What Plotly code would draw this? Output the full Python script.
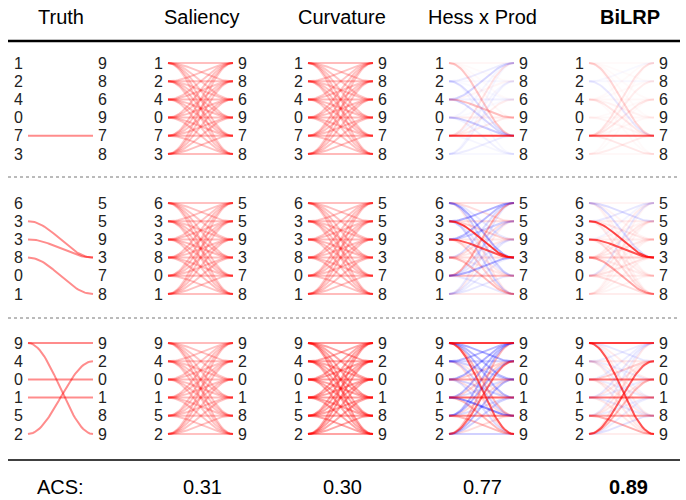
import math
import plotly.graph_objects as go

# ---------------- data ----------------
methods = ["Truth", "Saliency", "Curvature", "Hess x Prod", "BiLRP"]
acs_label = "ACS:"
acs_scores = ["0.31", "0.30", "0.77", "0.89"]

left_labels = [["1", "2", "4", "0", "7", "3"],
               ["6", "3", "3", "8", "0", "1"],
               ["9", "4", "0", "1", "5", "2"]]
right_labels = [["9", "8", "6", "9", "7", "8"],
                ["5", "5", "9", "3", "7", "8"],
                ["9", "2", "0", "1", "8", "9"]]

# relevance matrices: rows = left digit, cols = right digit (positive=red, negative=blue)
truth_r1 = [[0, 0, 0, 0, 0, 0],
            [0, 0, 0, 0, 0, 0],
            [0, 0, 0, 0, 0, 0],
            [0, 0, 0, 0, 0, 0],
            [0, 0, 0, 0, 0.5, 0],
            [0, 0, 0, 0, 0, 0]]
truth_r2 = [[0, 0, 0, 0, 0, 0],
            [0, 0, 0, 0.5, 0, 0],
            [0, 0, 0, 0.5, 0, 0],
            [0, 0, 0, 0, 0, 0.5],
            [0, 0, 0, 0, 0, 0],
            [0, 0, 0, 0, 0, 0]]
truth_r3 = [[0.5, 0, 0, 0, 0, 0.5],
            [0, 0, 0, 0, 0, 0],
            [0, 0, 0.5, 0, 0, 0],
            [0, 0, 0, 0.5, 0, 0],
            [0, 0, 0, 0, 0, 0],
            [0, 0.5, 0, 0, 0, 0]]

saliency_r1 = [[.28, .26, .24, .25, .26, .23],
               [.26, .28, .25, .26, .27, .24],
               [.25, .26, .30, .28, .27, .25],
               [.26, .25, .28, .29, .28, .26],
               [.27, .26, .26, .28, .31, .27],
               [.24, .25, .26, .26, .28, .29]]
saliency_r2 = [[.27, .26, .25, .26, .25, .24],
               [.26, .28, .26, .28, .26, .25],
               [.25, .27, .28, .29, .26, .26],
               [.26, .26, .27, .28, .27, .28],
               [.25, .26, .26, .27, .29, .26],
               [.24, .25, .26, .26, .27, .28]]
saliency_r3 = [[.29, .27, .25, .26, .26, .27],
               [.26, .27, .26, .26, .25, .25],
               [.25, .26, .29, .27, .26, .25],
               [.26, .26, .27, .29, .27, .26],
               [.25, .25, .26, .27, .28, .26],
               [.26, .28, .26, .26, .26, .27]]

curvature_r1 = [[.29, .26, .25, .25, .26, .24],
                [.26, .29, .26, .26, .27, .25],
                [.25, .26, .30, .28, .27, .25],
                [.26, .26, .28, .30, .28, .26],
                [.27, .26, .27, .28, .32, .27],
                [.24, .25, .26, .26, .28, .30]]
curvature_r2 = [[.28, .27, .26, .26, .26, .25],
                [.27, .29, .27, .29, .26, .26],
                [.26, .27, .29, .30, .27, .26],
                [.26, .27, .27, .29, .27, .29],
                [.26, .26, .27, .27, .30, .27],
                [.25, .26, .26, .27, .27, .29]]
curvature_r3 = [[.45, .40, .38, .38, .38, .42],
                [.38, .38, .37, .37, .36, .36],
                [.37, .40, .42, .39, .38, .37],
                [.38, .38, .39, .42, .39, .38],
                [.37, .37, .38, .39, .40, .39],
                [.38, .42, .38, .38, .38, .39]]

hess_r1 = [[0.04, 0.02, 0.02, 0.03, 0.25, 0.00],
           [-0.08, -0.03, -0.02, 0.00, -0.15, -0.03],
           [-0.18, 0.04, -0.06, 0.28, -0.18, 0.00],
           [-0.04, 0.00, -0.02, 0.08, -0.22, -0.06],
           [0.12, -0.04, 0.08, 0.08, 0.85, -0.04],
           [-0.04, -0.06, 0.00, 0.00, -0.08, -0.03]]
hess_r2 = [[0.15, 0.15, -0.10, -0.35, -0.20, 0.10],
           [-0.35, 0.15, 0.20, 0.85, -0.10, -0.20],
           [-0.30, -0.20, 0.10, 0.75, 0.10, 0.20],
           [-0.15, 0.15, 0.10, 0.15, 0.10, 0.30],
           [0.35, -0.15, -0.10, -0.35, 0.30, -0.10],
           [-0.10, 0.08, -0.10, -0.08, -0.10, 0.10]]
hess_r3 = [[0.85, -0.35, -0.30, -0.30, 0.30, 0.70],
           [-0.30, -0.20, -0.20, 0.10, -0.20, 0.15],
           [-0.35, 0.20, 0.40, -0.20, 0.15, -0.15],
           [-0.30, 0.20, -0.15, 0.65, -0.50, 0.30],
           [-0.30, -0.30, 0.15, -0.15, 0.50, 0.30],
           [0.30, 0.60, -0.30, -0.20, 0.15, -0.20]]

bilrp_r1 = [[0.02, 0.02, 0.02, 0.02, 0.18, 0.02],
            [-0.03, -0.03, 0.00, 0.00, -0.10, 0.00],
            [0.02, 0.02, 0.03, 0.05, 0.10, 0.02],
            [0.00, 0.00, 0.02, 0.03, 0.05, 0.00],
            [0.12, 0.08, 0.10, 0.03, 0.70, 0.10],
            [0.02, 0.00, 0.02, 0.00, 0.08, 0.03]]
bilrp_r2 = [[0.05, -0.15, 0.05, -0.15, 0.05, 0.05],
            [-0.10, 0.08, 0.10, 0.80, 0.05, 0.10],
            [-0.05, 0.05, 0.08, 0.75, 0.08, 0.15],
            [0.08, 0.10, 0.10, 0.20, 0.08, 0.40],
            [-0.10, 0.08, 0.05, 0.12, 0.08, 0.15],
            [0.05, 0.05, 0.05, 0.05, 0.05, 0.08]]
bilrp_r3 = [[0.85, -0.10, 0.08, -0.05, 0.08, 0.75],
            [-0.08, 0.10, -0.08, 0.08, -0.08, 0.08],
            [-0.08, 0.20, 0.60, -0.08, 0.10, 0.10],
            [-0.10, 0.10, -0.08, 0.60, -0.10, 0.10],
            [-0.08, 0.10, 0.10, -0.08, 0.40, 0.35],
            [0.10, 0.70, 0.30, -0.08, -0.12, 0.08]]

relevance = [
    [truth_r1, saliency_r1, curvature_r1, hess_r1, bilrp_r1],
    [truth_r2, saliency_r2, curvature_r2, hess_r2, bilrp_r2],
    [truth_r3, saliency_r3, curvature_r3, hess_r3, bilrp_r3],
]

# ---------------- layout constants ----------------
W, H = 686, 500
PANEL_X0 = [28, 168, 308, 449, 589]
LINE_LEN = 65
LABEL_GAP = 10
ROW_Y0 = [63, 203, 343]
ROW_STEP = 18.2
HEADER_X = [61, 202, 342, 482, 630]
HEADER_Y = 17
ACS_X = [60, 202, 342, 482, 628]
ACS_Y = 487
NPTS = 40
LABEL_FONT = dict(family="Liberation Sans, Arial", size=16, color="#222")
TITLE_FONT = dict(family="Liberation Sans Narrow, Liberation Sans, Arial", size=20, color="black")

fig = go.Figure()

for r in range(3):
    for p in range(5):
        mat = relevance[r][p]
        x0 = PANEL_X0[p]
        items = []
        for i in range(6):
            for j in range(6):
                v = mat[i][j]
                if abs(v) < 1e-6:
                    continue
                items.append((abs(v), i, j, v))
        items.sort()
        for a, i, j, v in items:
            y1 = ROW_Y0[r] + i * ROW_STEP
            y2 = ROW_Y0[r] + j * ROW_STEP
            xs, ys = [], []
            for k in range(NPTS + 1):
                t = k / NPTS
                s = (1 - math.cos(math.pi * t)) / 2
                xs.append(x0 + t * LINE_LEN)
                ys.append(y1 + (y2 - y1) * s)
            alpha = min(1.0, a * 0.9)
            col = f"rgba(255,0,0,{alpha:.3f})" if v > 0 else f"rgba(0,0,255,{alpha:.3f})"
            fig.add_trace(go.Scatter(x=xs, y=ys, mode="lines",
                                     line=dict(color=col, width=2),
                                     hoverinfo="skip", showlegend=False))
        for i in range(6):
            y = ROW_Y0[r] + i * ROW_STEP
            fig.add_annotation(x=x0 - LABEL_GAP, y=y, text=left_labels[r][i],
                               showarrow=False, xanchor="center", yanchor="middle",
                               font=LABEL_FONT)
            fig.add_annotation(x=x0 + LINE_LEN + LABEL_GAP - 1, y=y, text=right_labels[r][i],
                               showarrow=False, xanchor="center", yanchor="middle",
                               font=LABEL_FONT)

for p, name in enumerate(methods):
    txt = f"<b>{name}</b>" if name == "BiLRP" else name
    fig.add_annotation(x=HEADER_X[p], y=HEADER_Y, text=txt, showarrow=False,
                       xanchor="center", yanchor="middle", font=TITLE_FONT)

fig.add_annotation(x=ACS_X[0], y=ACS_Y, text=acs_label, showarrow=False,
                   xanchor="center", yanchor="middle", font=TITLE_FONT)
for k, s in enumerate(acs_scores):
    txt = f"<b>{s}</b>" if k == len(acs_scores) - 1 else s
    fig.add_annotation(x=ACS_X[k + 1], y=ACS_Y, text=txt, showarrow=False,
                       xanchor="center", yanchor="middle", font=TITLE_FONT)

fig.add_shape(type="line", x0=8, x1=680, y0=41, y1=41, xref="x", yref="y",
              line=dict(color="black", width=2.5))
for yd in [177, 318]:
    fig.add_shape(type="line", x0=8, x1=680, y0=yd, y1=yd, xref="x", yref="y",
                  line=dict(color="#777", width=1, dash="dot"))
fig.add_shape(type="line", x0=8, x1=680, y0=460, y1=460, xref="x", yref="y",
              line=dict(color="black", width=1.5))

fig.update_xaxes(range=[0, W], visible=False, fixedrange=True)
fig.update_yaxes(range=[H, 0], visible=False, fixedrange=True)
fig.update_layout(width=W, height=H, margin=dict(l=0, r=0, t=0, b=0),
                  plot_bgcolor="white", paper_bgcolor="white", showlegend=False)

fig.write_html("out.html", config={"displayModeBar": False},
               post_script="document.body.style.margin='0';document.body.style.overflow='hidden';")
